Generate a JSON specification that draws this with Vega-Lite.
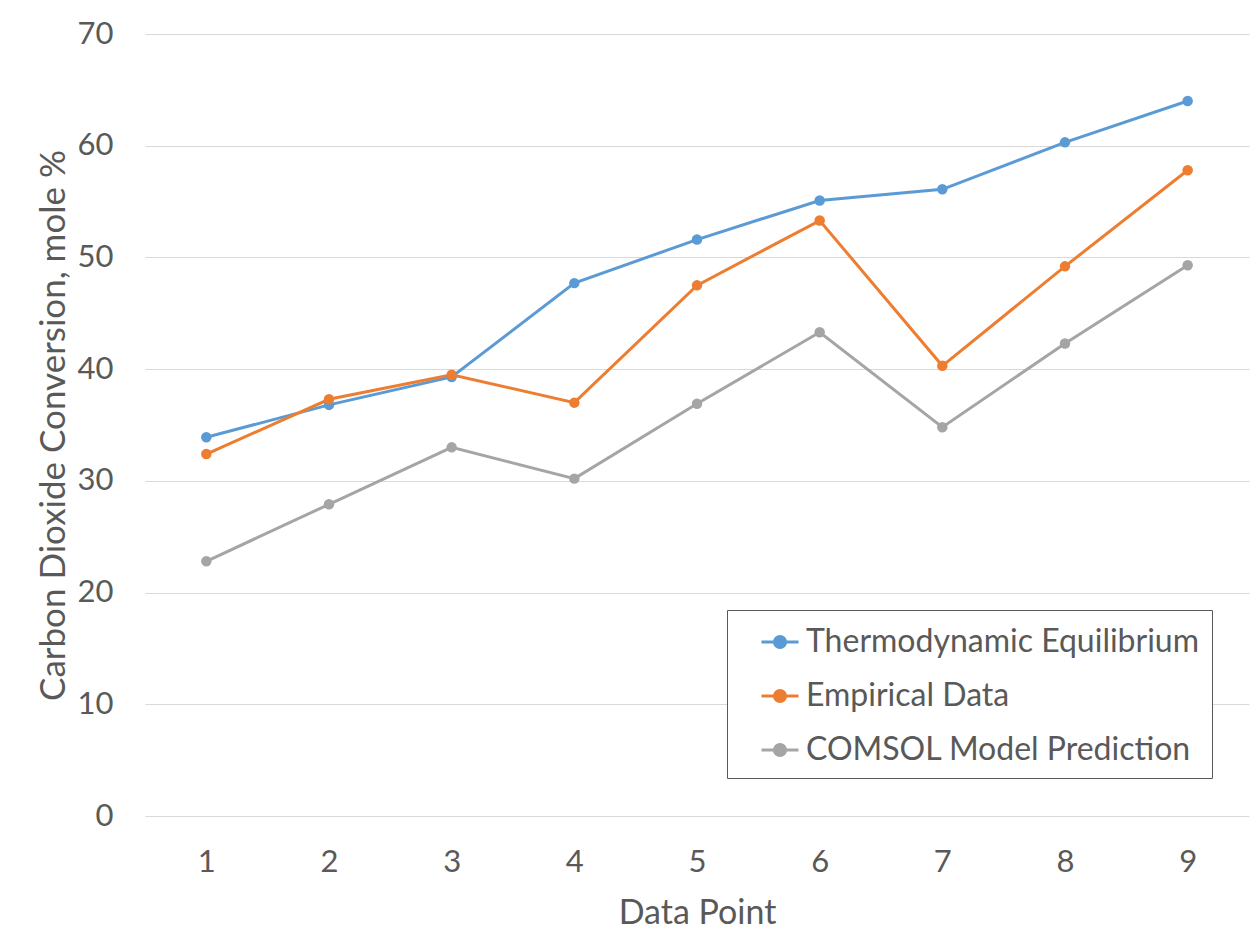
{
  "$schema": "https://vega.github.io/schema/vega-lite/v6.json",
  "width": 1104,
  "height": 782,
  "autosize": {"type": "none"},
  "padding": {"left": 145, "top": 34, "right": 3, "bottom": 136},
  "background": "white",
  "config": {
    "view": {"stroke": null},
    "font": "Lato",
    "axis": {"labelColor": "#595959", "titleColor": "#595959", "labelFont": "Lato", "titleFont": "Lato", "titleFontWeight": "normal"}
  },
  "data": {
    "values": [
      {"point": 1, "series": "Thermodynamic Equilibrium", "value": 33.9},
      {"point": 2, "series": "Thermodynamic Equilibrium", "value": 36.8},
      {"point": 3, "series": "Thermodynamic Equilibrium", "value": 39.3},
      {"point": 4, "series": "Thermodynamic Equilibrium", "value": 47.7},
      {"point": 5, "series": "Thermodynamic Equilibrium", "value": 51.6},
      {"point": 6, "series": "Thermodynamic Equilibrium", "value": 55.1},
      {"point": 7, "series": "Thermodynamic Equilibrium", "value": 56.1},
      {"point": 8, "series": "Thermodynamic Equilibrium", "value": 60.3},
      {"point": 9, "series": "Thermodynamic Equilibrium", "value": 64.0},
      {"point": 1, "series": "Empirical Data", "value": 32.4},
      {"point": 2, "series": "Empirical Data", "value": 37.3},
      {"point": 3, "series": "Empirical Data", "value": 39.5},
      {"point": 4, "series": "Empirical Data", "value": 37.0},
      {"point": 5, "series": "Empirical Data", "value": 47.5},
      {"point": 6, "series": "Empirical Data", "value": 53.3},
      {"point": 7, "series": "Empirical Data", "value": 40.3},
      {"point": 8, "series": "Empirical Data", "value": 49.2},
      {"point": 9, "series": "Empirical Data", "value": 57.8},
      {"point": 1, "series": "COMSOL Model Prediction", "value": 22.8},
      {"point": 2, "series": "COMSOL Model Prediction", "value": 27.9},
      {"point": 3, "series": "COMSOL Model Prediction", "value": 33.0},
      {"point": 4, "series": "COMSOL Model Prediction", "value": 30.2},
      {"point": 5, "series": "COMSOL Model Prediction", "value": 36.9},
      {"point": 6, "series": "COMSOL Model Prediction", "value": 43.3},
      {"point": 7, "series": "COMSOL Model Prediction", "value": 34.8},
      {"point": 8, "series": "COMSOL Model Prediction", "value": 42.3},
      {"point": 9, "series": "COMSOL Model Prediction", "value": 49.3}
    ]
  },
  "mark": {"type": "line", "strokeWidth": 3, "point": {"size": 110, "filled": true, "opacity": 1}},
  "encoding": {
    "x": {
      "field": "point", "type": "ordinal",
      "scale": {"type": "point", "padding": 0.5},
      "axis": {"title": "Data Point", "labelAngle": 0, "labelFontSize": 31, "titleFontSize": 34, "ticks": false, "domain": false, "grid": false, "labelPadding": 31, "titlePadding": 19}
    },
    "y": {
      "field": "value", "type": "quantitative",
      "scale": {"domain": [0, 70], "nice": false},
      "axis": {"title": "Carbon Dioxide Conversion, mole %", "values": [0, 10, 20, 30, 40, 50, 60, 70], "labelFontSize": 31, "titleFontSize": 35, "ticks": false, "domain": false, "grid": true, "gridColor": "#d9d9d9", "gridWidth": 1, "labelPadding": 32, "titlePadding": 6}
    },
    "color": {
      "field": "series", "type": "nominal",
      "sort": ["Thermodynamic Equilibrium", "Empirical Data", "COMSOL Model Prediction"],
      "scale": {"domain": ["Thermodynamic Equilibrium", "Empirical Data", "COMSOL Model Prediction"], "range": ["#5B9BD5", "#ED7D31", "#A5A5A5"]},
      "legend": {
        "title": null,
        "orient": "none",
        "legendX": 582,
        "legendY": 576,
        "strokeColor": "#595959",
        "fillColor": "white",
        "padding": 12,
        "symbolOffset": 21,
        "symbolType": "M-1,0H1M-0.3,0A0.3,0.3 0 1,0 0.3,0A0.3,0.3 0 1,0 -0.3,0Z",
        "symbolSize": 1369,
        "symbolStrokeWidth": 3,
        "symbolFillColor": null,
        "labelFontSize": 32,
        "labelFont": "Lato",
        "labelColor": "#595959",
        "labelOffset": 6,
        "labelLimit": 600,
        "rowPadding": 18
      }
    }
  }
}
